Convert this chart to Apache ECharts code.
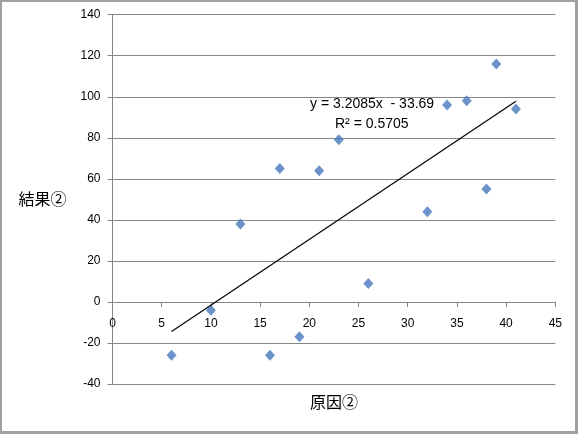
<!DOCTYPE html>
<html>
<head>
<meta charset="utf-8">
<script src="https://cdn.jsdelivr.net/npm/echarts@6/dist/echarts.min.js"></script>
<style>
html,body{margin:0;padding:0;background:#fff;}
#chart{width:578px;height:434px;}
</style>
</head>
<body>
<div id="chart"></div>
<script>
// ---- data ----
const xValues = [6, 10, 13, 16, 17, 19, 21, 23, 26, 32, 34, 36, 38, 39, 41];
const yValues = [-26, -4, 38, -26, 65, -17, 64, 79, 9, 44, 96, 98, 55, 116, 94];
const trendSlope = 3.2085;
const trendIntercept = -33.69;
const rSquared = 0.5705;
const xAxisTitle = '原因②';
const yAxisTitle = '結果②';
const yMin = -40, yMax = 140;

const points = xValues.map((x, i) => [x, yValues[i]]);
const xMin = Math.min(...xValues), xMax = Math.max(...xValues);
const trendData = [[xMin, trendSlope * xMin + trendIntercept], [xMax, trendSlope * xMax + trendIntercept]];
const eqText = 'y = ' + trendSlope + 'x  - ' + Math.abs(trendIntercept);
const r2Text = 'R² = ' + rSquared;

const chartW = 578, chartH = 434;
const gridTop = 14.7, gridBottom = 50;
const plotH = chartH - gridTop - gridBottom;
// place the x axis where y = 0 (Excel style crossing)
const xAxisOffset = -((0 - yMin) / (yMax - yMin)) * plotH;

const chart = echarts.init(document.getElementById('chart'), null, {renderer: 'canvas'});
const gridColor = '#868686';
const labelFont = {fontFamily: 'Liberation Sans', fontSize: 12, color: '#000'};

chart.setOption({
  animation: false,
  backgroundColor: '#fff',
  grid: {left: 112.5, right: 22.7, top: gridTop, bottom: gridBottom, containLabel: false, outerBoundsMode: 'none'},
  xAxis: {
    type: 'value', min: 0, max: 45, interval: 5, offset: xAxisOffset,
    name: xAxisTitle, nameLocation: 'middle', nameGap: 92,
    nameTextStyle: {fontFamily: 'Noto Sans CJK JP', fontSize: 16, color: '#000'},
    axisLine: {show: true, onZero: false, lineStyle: {color: gridColor, width: 1}},
    axisTick: {show: true, inside: false, length: 5, lineStyle: {color: gridColor}},
    axisLabel: Object.assign({margin: 16}, labelFont),
    splitLine: {show: false}
  },
  yAxis: {
    type: 'value', min: yMin, max: yMax, interval: 20,
    name: yAxisTitle, nameLocation: 'middle', nameGap: 46, nameRotate: 0,
    nameTextStyle: {fontFamily: 'Noto Sans CJK JP', fontSize: 16, color: '#000'},
    axisLine: {show: true, onZero: false, lineStyle: {color: gridColor, width: 1}},
    axisTick: {show: true, inside: false, length: 5, lineStyle: {color: gridColor}},
    axisLabel: Object.assign({margin: 12}, labelFont),
    splitLine: {show: true, lineStyle: {color: gridColor, width: 1}}
  },
  series: [
    {
      type: 'scatter', data: points, symbol: 'diamond', symbolSize: [10, 11],
      itemStyle: {color: '#4678bd'}, z: 3
    },
    {
      type: 'line', data: trendData, symbol: 'none', silent: true,
      lineStyle: {color: '#000', width: 1.2}, z: 4
    }
  ],
  graphic: [
    {type: 'text', left: 310, top: 97, style: {text: eqText, font: '14px "Liberation Sans"', fill: '#000'}},
    {type: 'text', left: 335, top: 117, style: {text: r2Text, font: '14px "Liberation Sans"', fill: '#000'}},
    {type: 'rect', shape: {x: 1, y: 1, width: 575, height: 431}, style: {fill: 'none', stroke: '#a0a0a0', lineWidth: 2}, silent: true},
    {type: 'line', shape: {x1: 577.5, y1: 0, x2: 577.5, y2: 434}, style: {stroke: '#a0a0a0', lineWidth: 1}, silent: true},
    {type: 'line', shape: {x1: 0, y1: 433.5, x2: 578, y2: 433.5}, style: {stroke: '#a0a0a0', lineWidth: 1}, silent: true}
  ]
});
</script>
</body>
</html>
